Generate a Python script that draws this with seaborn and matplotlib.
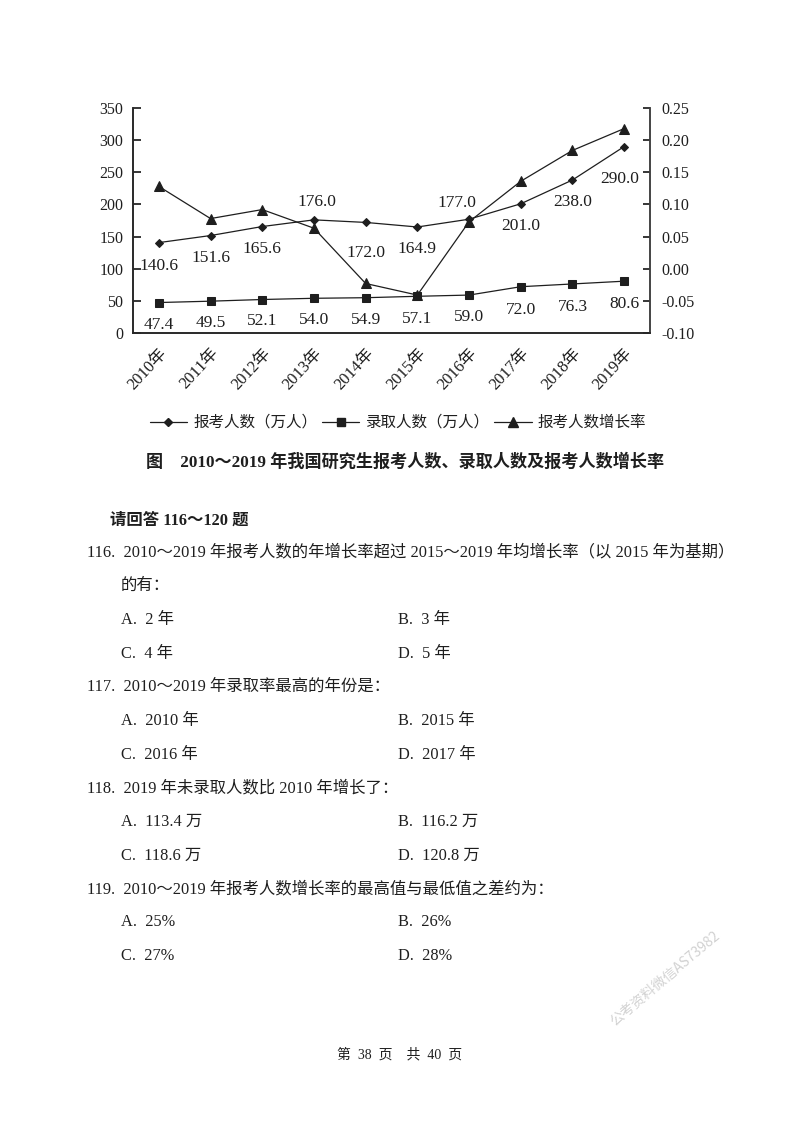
import matplotlib
matplotlib.use('Agg')
import matplotlib.pyplot as plt
import seaborn as sns
import pandas as pd
from matplotlib.lines import Line2D

# data
years = ['2010年', '2011年', '2012年', '2013年', '2014年',
         '2015年', '2016年', '2017年', '2018年', '2019年']
applicants = [140.6, 151.6, 165.6, 176.0, 172.0, 164.9, 177.0, 201.0, 238.0, 290.0]
admitted = [47.4, 49.5, 52.1, 54.0, 54.9, 57.1, 59.0, 72.0, 76.3, 80.6]
growth = [0.128, 0.078, 0.092, 0.063, -0.023, -0.041, 0.073, 0.136, 0.184, 0.218]

# label offsets (points) for the value labels
app_dx = [0, 0, 0, 2, 0, 0, -9, 0, 0, -3]
app_dy = [-16.5, -16, -16, 13, -22, -16, 12, -16, -16, -23]
adm_dy = [-16.5, -16, -15.5, -15.5, -16, -16, -16, -16.5, -16.5, -16.5]

legend_names = ['报考人数（万人）', '录取人数（万人）', '报考人数增长率']
caption = '图　2010～2019 年我国研究生报考人数、录取人数及报考人数增长率'
rate_ticks = [-0.10, -0.05, 0.00, 0.05, 0.10, 0.15, 0.20, 0.25]

sns.set_theme(style='white')
plt.rcParams['font.family'] = ['Liberation Serif', 'Noto Sans CJK SC', 'DejaVu Sans']
plt.rcParams['axes.unicode_minus'] = False

ink = '#1e1e1e'
df = pd.DataFrame({'year': years, 'applicants': applicants,
                   'admitted': admitted, 'growth': growth})

fig = plt.figure(figsize=(8, 11.32), dpi=100)
ax = fig.add_axes([133 / 800, 1 - 333 / 1132, 517 / 800, 225 / 1132])

sns.lineplot(data=df, x='year', y='applicants', sort=False, ax=ax, color=ink,
             marker='D', markersize=4, linewidth=0.9, markeredgecolor=ink)
sns.lineplot(data=df, x='year', y='admitted', sort=False, ax=ax, color=ink,
             marker='s', markersize=6, linewidth=0.9, markeredgecolor=ink)

ax.set_ylim(0, 350)
ax.set_yticks(range(0, 351, 50))
ax.set_xlim(-0.5, 9.5)
ax.set_xlabel('')
ax.set_ylabel('')
ax.spines['top'].set_visible(False)
for s in ['left', 'right', 'bottom']:
    ax.spines[s].set_color('#444444')
    ax.spines[s].set_linewidth(1.2)
ax.tick_params(axis='y', direction='in', length=6, labelsize=11.5, colors=ink, pad=7)
ax.tick_params(axis='x', length=0, labelsize=12, colors=ink, pad=9)
plt.setp(ax.get_xticklabels(), rotation=47, ha='right', va='top', rotation_mode='anchor')

for i, v in enumerate(applicants):
    ax.annotate(f'{v:.1f}', (i, v), xytext=(app_dx[i], app_dy[i]), textcoords='offset points',
                ha='center', va='center', fontsize=12.5, color=ink)
for i, v in enumerate(admitted):
    ax.annotate(f'{v:.1f}', (i, v), xytext=(0, adm_dy[i]), textcoords='offset points',
                ha='center', va='center', fontsize=12.5, color=ink)

ax2 = ax.twinx()
sns.lineplot(data=df, x='year', y='growth', sort=False, ax=ax2, color=ink,
             marker='^', markersize=6.5, linewidth=0.9, markeredgecolor=ink)
ax2.set_ylim(-0.10, 0.25)
ax2.set_yticks(rate_ticks)
ax2.set_yticklabels([f'{t:.2f}' for t in rate_ticks])
ax2.set_ylabel('')
ax2.spines['top'].set_visible(False)
ax2.spines['right'].set_color('#444444')
ax2.spines['right'].set_linewidth(1.2)
ax2.tick_params(axis='y', direction='in', length=5, labelsize=11.5, colors=ink, pad=8)
ax2.grid(False)
ax.grid(False)

handles = [Line2D([], [], color=ink, lw=0.9, marker='D', markersize=4),
           Line2D([], [], color=ink, lw=0.9, marker='s', markersize=6),
           Line2D([], [], color=ink, lw=0.9, marker='^', markersize=6.5)]
fig.legend(handles, legend_names, loc='center', bbox_to_anchor=(398 / 800, 1 - 423 / 1132),
           ncol=3, frameon=False, fontsize=11.2, handlelength=2.4, handletextpad=0.4,
           columnspacing=0.3, labelcolor=ink)

fig.text(405 / 800, 1 - 462 / 1132, caption, ha='center', va='center', fontsize=12.3,
         fontweight='bold', color=ink)


def put(x, y, s, **kw):
    fig.text(x / 800, 1 - y / 1132, s, ha='left', va='center', fontsize=11.8, color=ink, **kw)


put(110, 521, '请回答 116～120 题', fontweight='bold')
put(87, 552, '116.  2010～2019 年报考人数的年增长率超过 2015～2019 年均增长率（以 2015 年为基期）')
put(121, 586, '的有：')
put(121, 620, 'A.  2 年')
put(398, 620, 'B.  3 年')
put(121, 654, 'C.  4 年')
put(398, 654, 'D.  5 年')
put(87, 687, '117.  2010～2019 年录取率最高的年份是：')
put(121, 721, 'A.  2010 年')
put(398, 721, 'B.  2015 年')
put(121, 755, 'C.  2016 年')
put(398, 755, 'D.  2017 年')
put(87, 788, '118.  2019 年未录取人数比 2010 年增长了：')
put(121, 822, 'A.  113.4 万')
put(398, 822, 'B.  116.2 万')
put(121, 856, 'C.  118.6 万')
put(398, 856, 'D.  120.8 万')
put(87, 889, '119.  2010～2019 年报考人数增长率的最高值与最低值之差约为：')
put(121, 922, 'A.  25%')
put(398, 922, 'B.  26%')
put(121, 956, 'C.  27%')
put(398, 956, 'D.  28%')

fig.text(400 / 800, 1 - 1055 / 1132, '第  38  页    共  40  页', ha='center', va='center',
         fontsize=10, color=ink)
fig.text(665 / 800, 1 - 978 / 1132, '公考资料微信AS73982', ha='center', va='center',
         fontsize=10, color='#d2d2d2', rotation=40, family=['Noto Sans CJK SC', 'DejaVu Sans'])

fig.savefig('out.png', dpi=100, facecolor='white')
